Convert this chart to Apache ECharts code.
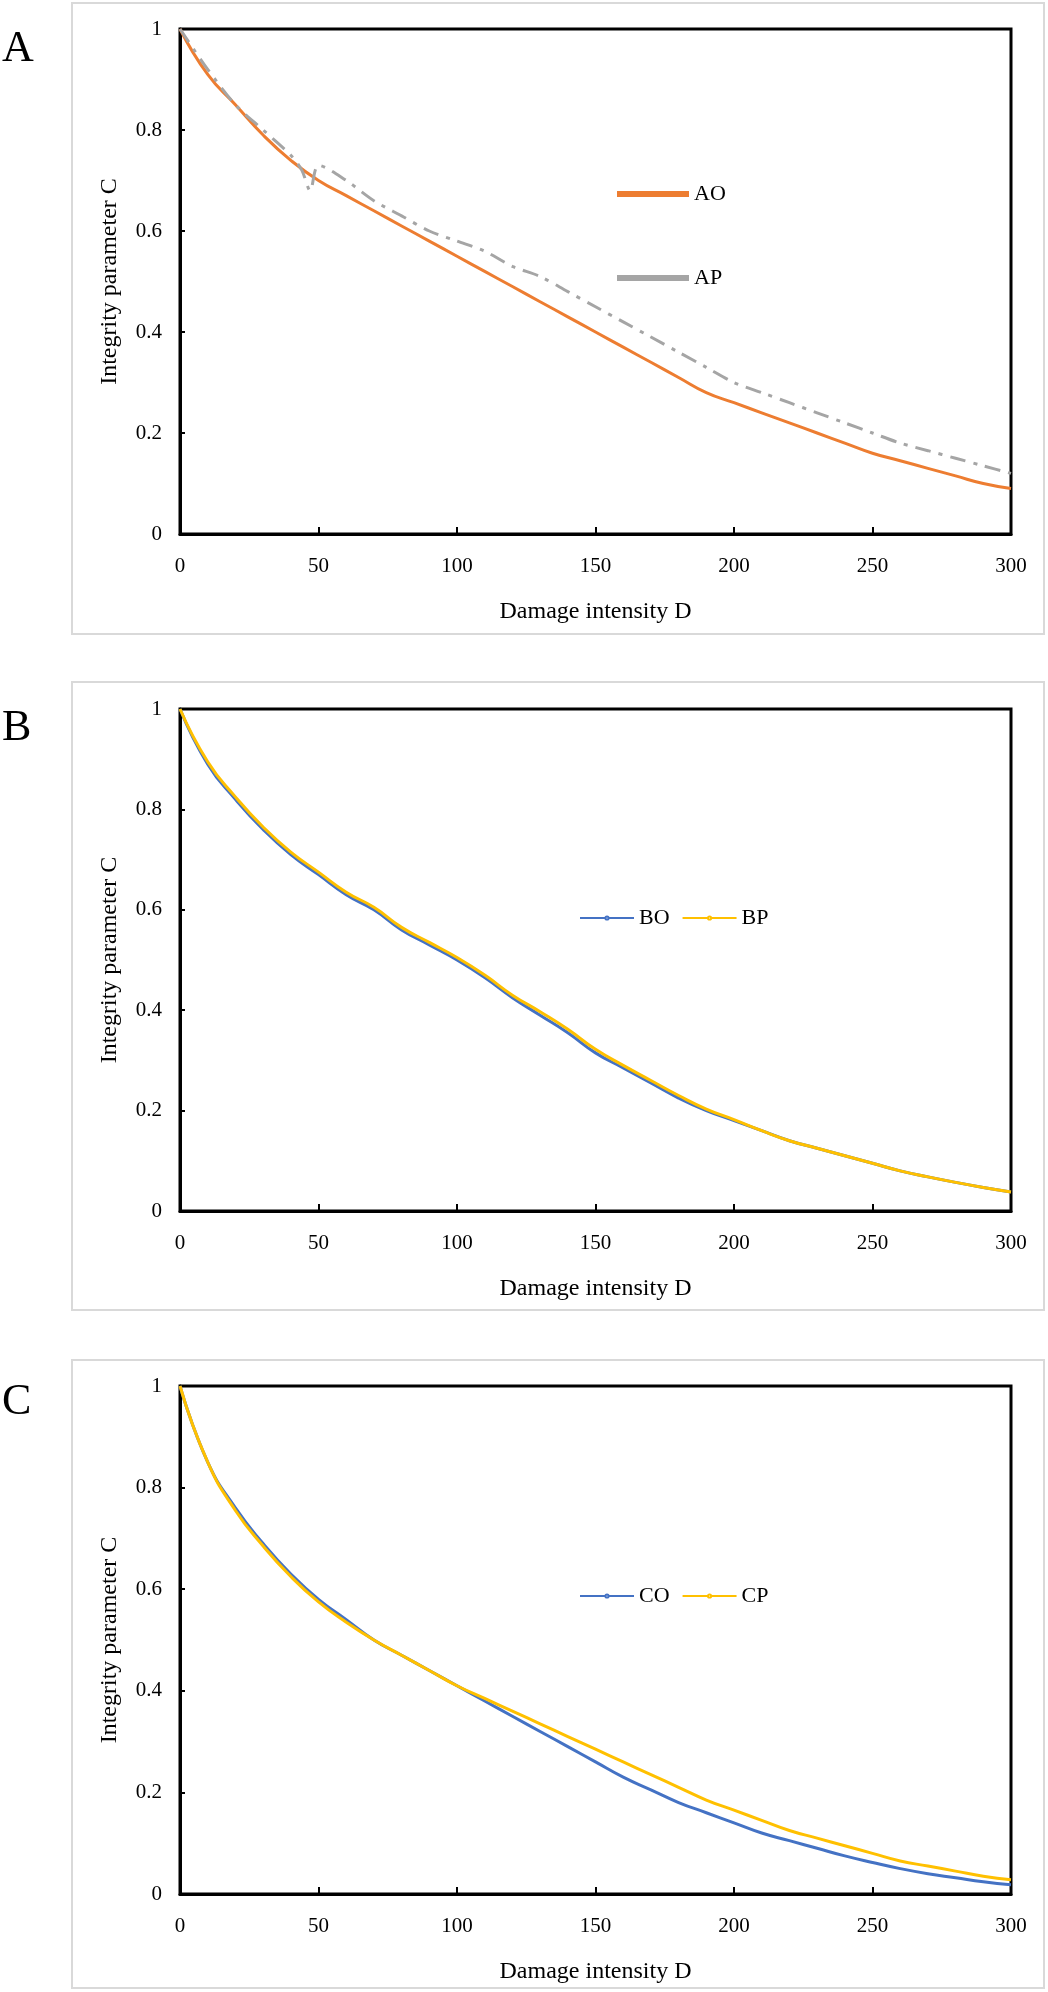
<!DOCTYPE html>
<html>
<head>
<meta charset="utf-8">
<script src="https://cdn.jsdelivr.net/npm/echarts@6/dist/echarts.min.js"></script>
<style>html,body{margin:0;background:#fff}#c{width:1048px;height:1992px}</style>
</head>
<body>
<div id="c"></div>
<script>
var D = [0,10,20,30,40,50,60,70,80,90,100,110,120,130,140,150,160,170,180,190,200,210,220,230,240,250,260,270,280,290,300];
var AO = [1,0.91,0.85,0.79,0.74,0.70,0.67,0.64,0.61,0.58,0.55,0.52,0.49,0.46,0.43,0.40,0.37,0.34,0.31,0.28,0.26,0.24,0.22,0.20,0.18,0.16,0.145,0.13,0.115,0.10,0.09];
var AP_D = [0,10,20,30,40,44,47,50,60,70,80,90,100,110,120,130,140,150,160,170,180,190,200,210,220,230,240,250,260,270,280,290,300];
var AP = [1,0.92,0.85,0.80,0.75,0.72,0.68,0.73,0.70,0.66,0.63,0.60,0.58,0.56,0.53,0.51,0.48,0.45,0.42,0.39,0.36,0.33,0.30,0.28,0.26,0.24,0.22,0.20,0.18,0.165,0.15,0.135,0.12];
var BO = [1,0.89,0.82,0.76,0.71,0.67,0.63,0.60,0.56,0.53,0.50,0.465,0.425,0.39,0.355,0.315,0.285,0.255,0.225,0.2,0.18,0.16,0.14,0.125,0.11,0.095,0.08,0.068,0.057,0.047,0.038];
var BP = [1,0.895,0.825,0.765,0.715,0.675,0.635,0.605,0.565,0.535,0.505,0.47,0.43,0.397,0.362,0.322,0.29,0.26,0.23,0.203,0.182,0.16,0.14,0.125,0.11,0.095,0.08,0.068,0.057,0.047,0.038];
var CO = [1,0.85,0.76,0.69,0.63,0.58,0.54,0.50,0.47,0.44,0.41,0.38,0.35,0.32,0.29,0.26,0.23,0.205,0.18,0.16,0.14,0.12,0.105,0.09,0.075,0.062,0.05,0.04,0.032,0.024,0.018];
var CP = [1,0.85,0.755,0.685,0.625,0.575,0.535,0.50,0.47,0.44,0.41,0.385,0.36,0.335,0.31,0.285,0.26,0.235,0.21,0.185,0.165,0.145,0.125,0.11,0.095,0.08,0.065,0.055,0.045,0.035,0.028];

function pairs(xs, ys) { return xs.map(function (x, i) { return [x, ys[i]]; }); }

var font = 'Liberation Serif';
var grids = [
    {left: 180, top: 29, width: 831, height: 505},
    {left: 180, top: 709, width: 831, height: 502},
    {left: 180, top: 1386, width: 831, height: 508}
];
var boxes = [[72, 3, 972, 631], [72, 682, 972, 628], [72, 1360, 972, 628]];
var letters = [['A', 51], ['B', 730], ['C', 1404]];

var option = {
    animation: false,
    textStyle: {fontFamily: font},
    grid: grids.map(function (g) {
        return Object.assign({show: true, borderColor: '#000', borderWidth: 3, backgroundColor: 'transparent'}, g);
    }),
    xAxis: grids.map(function (g, i) {
        return {
            gridIndex: i, type: 'value', min: 0, max: 300, interval: 50,
            name: 'Damage intensity D', nameLocation: 'middle', nameGap: 66,
            nameTextStyle: {fontFamily: font, fontSize: 24, color: '#000'},
            axisLine: {lineStyle: {color: '#000', width: 3}},
            axisTick: {inside: true, length: 7, lineStyle: {color: '#000', width: 2}},
            axisLabel: {fontFamily: font, fontSize: 21, color: '#000', margin: 22},
            splitLine: {show: false}
        };
    }),
    yAxis: grids.map(function (g, i) {
        return {
            gridIndex: i, type: 'value', min: 0, max: 1, interval: 0.2,
            name: 'Integrity parameter C', nameLocation: 'middle', nameGap: 58,
            nameTextStyle: {fontFamily: font, fontSize: 24, color: '#000'},
            axisLine: {lineStyle: {color: '#000', width: 3}},
            axisTick: {inside: true, length: 5, lineStyle: {color: '#000', width: 2}},
            axisLabel: {fontFamily: font, fontSize: 21, color: '#000', margin: 18},
            splitLine: {show: false}
        };
    }),
    legend: [
        {data: ['AO', 'AP'], orient: 'vertical', left: 612, top: 178, itemGap: 62, itemWidth: 72, itemHeight: 6,
         icon: 'rect', textStyle: {fontFamily: font, fontSize: 22, color: '#000'}, selectedMode: false},
        {data: ['BO', 'BP'], left: 574, top: 902, itemGap: 12, itemWidth: 54, itemHeight: 4,
         textStyle: {fontFamily: font, fontSize: 22, color: '#000'}, selectedMode: false},
        {data: ['CO', 'CP'], left: 574, top: 1580, itemGap: 12, itemWidth: 54, itemHeight: 4,
         textStyle: {fontFamily: font, fontSize: 22, color: '#000'}, selectedMode: false}
    ],
    graphic: boxes.map(function (b) {
        return {type: 'rect', silent: true, z: -1, shape: {x: b[0], y: b[1], width: b[2], height: b[3]},
                style: {fill: 'none', stroke: '#d9d9d9', lineWidth: 2}};
    }).concat(letters.map(function (l) {
        return {type: 'text', left: 2, top: l[1] - 24,
                style: {text: l[0], font: '44px "Liberation Serif"', fill: '#000'}};
    })),
    series: [
        {name: 'AO', type: 'line', xAxisIndex: 0, yAxisIndex: 0, data: pairs(D, AO), smooth: true, showSymbol: false,
         color: '#ED7D31', lineStyle: {width: 3}},
        {name: 'AP', type: 'line', xAxisIndex: 0, yAxisIndex: 0, data: pairs(AP_D, AP), smooth: 0.3, showSymbol: false,
         color: '#A5A5A5', lineStyle: {width: 3, type: [16, 8, 4, 8]}},
        {name: 'BO', type: 'line', xAxisIndex: 1, yAxisIndex: 1, data: pairs(D, BO), smooth: true, showSymbol: false,
         color: '#4472C4', lineStyle: {width: 3}},
        {name: 'BP', type: 'line', xAxisIndex: 1, yAxisIndex: 1, data: pairs(D, BP), smooth: true, showSymbol: false,
         color: '#FFC000', lineStyle: {width: 3}},
        {name: 'CO', type: 'line', xAxisIndex: 2, yAxisIndex: 2, data: pairs(D, CO), smooth: true, showSymbol: false,
         color: '#4472C4', lineStyle: {width: 3}},
        {name: 'CP', type: 'line', xAxisIndex: 2, yAxisIndex: 2, data: pairs(D, CP), smooth: true, showSymbol: false,
         color: '#FFC000', lineStyle: {width: 3}}
    ]
};

var myChart = echarts.init(document.getElementById('c'));
myChart.setOption(option);
</script>
</body>
</html>
